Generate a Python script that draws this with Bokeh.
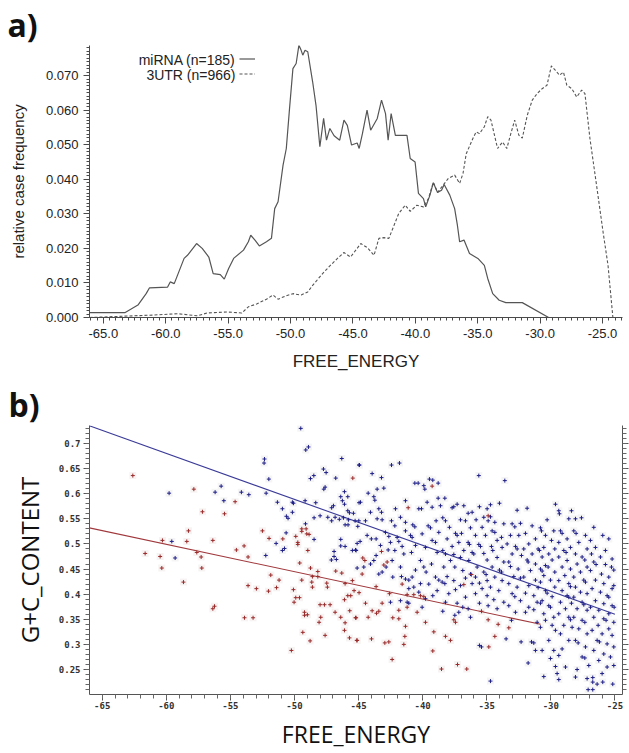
from bokeh.plotting import figure
from bokeh.layouts import column
from bokeh.models import (FixedTicker, CustomJSTickFormatter, LinearAxis, Label,
                          Legend, LegendItem, Title)
from bokeh.core.properties import value
from bokeh.embed import file_html
from bokeh.resources import INLINE

# ---------------- panel a data ----------------
mirna_x = [-66.11, -63.28, -62.23, -61.57, -61.30, -59.85, -59.64, -59.32, -58.53, -58.26,
           -57.53, -57.08, -56.55, -56.20, -55.63, -55.31, -54.96, -54.56, -53.77, -53.38,
           -53.19, -52.85, -52.50, -51.93, -51.53, -51.27, -51.00, -50.60, -50.34, -50.08,
           -49.81, -49.55, -49.33, -49.15, -49.02, -48.84, -48.62, -48.23, -47.96, -47.65,
           -47.35, -47.12, -46.85, -46.51, -46.06, -45.72, -45.45, -45.11, -44.66, -44.50,
           -44.24, -43.87, -43.58, -43.05, -42.71, -42.39, -42.18, -41.94, -41.60, -41.07,
           -40.67, -40.41, -40.02, -39.75, -39.35, -39.17, -38.83, -38.56, -38.22, -37.90,
           -37.69, -37.24, -36.85, -36.63, -36.45, -36.10, -35.66, -34.99, -34.47, -34.20,
           -33.80, -33.28, -32.75, -31.43, -29.32]
mirna_y = [0.0014, 0.0014, 0.0036, 0.0069, 0.0086, 0.0088, 0.0103, 0.0098, 0.0171, 0.0180,
           0.0214, 0.0200, 0.0175, 0.0127, 0.0124, 0.0111, 0.0142, 0.0171, 0.0195, 0.0219,
           0.0238, 0.0224, 0.0207, 0.0219, 0.0229, 0.0315, 0.0335, 0.0441, 0.0489, 0.0605,
           0.0720, 0.0735, 0.0788, 0.0773, 0.0759, 0.0773, 0.0769, 0.0682, 0.0614, 0.0494,
           0.0576, 0.0513, 0.0547, 0.0526, 0.0513, 0.0571, 0.0556, 0.0499, 0.0505, 0.0489,
           0.0532, 0.0600, 0.0542, 0.0576, 0.0629, 0.0590, 0.0513, 0.0590, 0.0527, 0.0527,
           0.0527, 0.0460, 0.0450, 0.0359, 0.0344, 0.0320, 0.0354, 0.0390, 0.0362, 0.0368,
           0.0385, 0.0354, 0.0315, 0.0267, 0.0219, 0.0224, 0.0185, 0.0171, 0.0151, 0.0113,
           0.0069, 0.0050, 0.0043, 0.0043, 0.0000]

utr_x = [-66.11, -61.04, -59.06, -57.47, -56.68, -55.10, -53.91, -53.38, -52.72, -51.93,
         -51.40, -51.00, -50.34, -49.81, -49.15, -48.62, -48.23, -47.43, -46.91, -46.24,
         -45.72, -45.19, -44.37, -43.84, -43.31, -42.92, -42.52, -42.12, -41.33, -40.81,
         -40.41, -39.88, -39.35, -38.95, -38.56, -38.22, -37.77, -37.37, -36.85, -36.45,
         -36.18, -35.92, -35.39, -35.13, -34.86, -34.47, -34.20, -33.94, -33.41, -33.01,
         -32.67, -32.35, -32.04, -31.70, -31.43, -31.03, -30.63, -30.24, -29.84, -29.45,
         -29.10, -28.79, -28.45, -28.13, -27.86, -27.46, -27.07, -26.67, -26.41, -26.01,
         -25.48, -24.96, -24.56, -24.17]
utr_y = [0.0000, 0.0007, 0.0011, 0.0005, 0.0013, 0.0016, 0.0013, 0.0031, 0.0039, 0.0053,
         0.0065, 0.0053, 0.0063, 0.0069, 0.0065, 0.0074, 0.0093, 0.0127, 0.0147, 0.0171,
         0.0188, 0.0175, 0.0214, 0.0202, 0.0180, 0.0229, 0.0231, 0.0229, 0.0301, 0.0325,
         0.0307, 0.0325, 0.0320, 0.0344, 0.0391, 0.0362, 0.0383, 0.0402, 0.0412, 0.0388,
         0.0417, 0.0474, 0.0518, 0.0537, 0.0532, 0.0552, 0.0581, 0.0571, 0.0489, 0.0508,
         0.0489, 0.0532, 0.0571, 0.0527, 0.0519, 0.0585, 0.0629, 0.0648, 0.0662, 0.0672,
         0.0728, 0.0716, 0.0701, 0.0710, 0.0672, 0.0662, 0.0638, 0.0658, 0.0648, 0.0518,
         0.0383, 0.0248, 0.0151, 0.0000]

a_x_ticks = [-65, -60, -55, -50, -45, -40, -35, -30, -25]
a_y_ticks = [0.0, 0.01, 0.02, 0.03, 0.04, 0.05, 0.06, 0.07]
legend_labels = ["miRNA (n=185)", "3UTR (n=966)"]

# ---------------- panel b data ----------------
red_pts = [(-45.45, 0.631), (-62.61, 0.636), (-57.85, 0.609), (-57.18, 0.564), (-55.46, 0.560),
           (-54.63, 0.584), (-58.27, 0.526), (-60.3, 0.507), (-58.4, 0.505), (-56.37, 0.507),
           (-61.65, 0.481), (-60.48, 0.475), (-60.35, 0.452), (-57.62, 0.483), (-57.28, 0.474),
           (-57.23, 0.452), (-58.66, 0.424), (-56.24, 0.376), (-56.37, 0.371), (-53.9, 0.353),
           (-53.23, 0.353), (-54.53, 0.488), (-53.93, 0.496), (-53.62, 0.474), (-52.5, 0.526),
           (-51.98, 0.511), (-50.91, 0.510), (-49.9, 0.515), (-49.74, 0.503), (-49.74, 0.499),
           (-49.43, 0.530), (-49.09, 0.530), (-49.43, 0.525), (-49.04, 0.520), (-48.86, 0.519),
           (-48.96, 0.487), (-51.85, 0.438), (-51.2, 0.428), (-53.62, 0.417), (-52.97, 0.411),
           (-52.03, 0.406), (-51.4, 0.413), (-50.08, 0.409), (-49.9, 0.393), (-49.61, 0.393),
           (-50.03, 0.384), (-49.59, 0.462), (-49.43, 0.428), (-48.75, 0.452), (-48.6, 0.435),
           (-48.18, 0.435), (-48.18, 0.445), (-48.65, 0.424), (-48.6, 0.414), (-47.48, 0.422),
           (-47.43, 0.414), (-46.78, 0.446), (-46.31, 0.442), (-46.05, 0.421), (-45.48, 0.427),
           (-48.0, 0.379), (-47.66, 0.379), (-47.22, 0.379), (-47.95, 0.354), (-48.08, 0.344),
           (-49.22, 0.364), (-48.99, 0.359), (-49.22, 0.358), (-49.35, 0.324), (-48.78, 0.307),
           (-50.24, 0.288), (-47.61, 0.318), (-46.83, 0.364), (-46.39, 0.354), (-46.05, 0.343),
           (-46.1, 0.328), (-45.71, 0.313), (-45.14, 0.308), (-45.69, 0.367), (-45.19, 0.353),
           (-46.1, 0.389), (-45.84, 0.397), (-45.61, 0.397), (-45.35, 0.407), (-44.96, 0.403),
           (-39.26, 0.615), (-41.13, 0.572), (-34.89, 0.556), (-44.67, 0.472), (-44.51, 0.467),
           (-43.21, 0.485), (-43.03, 0.458), (-42.77, 0.464), (-44.72, 0.440), (-43.63, 0.415),
           (-44.46, 0.382), (-43.94, 0.367), (-43.6, 0.362), (-43.42, 0.366), (-44.25, 0.354),
           (-45.24, 0.353), (-43.16, 0.382), (-42.59, 0.401), (-41.86, 0.368), (-41.21, 0.374),
           (-40.43, 0.364), (-40.69, 0.399), (-40.17, 0.397), (-39.91, 0.395), (-41.86, 0.351),
           (-41.34, 0.336), (-42.33, 0.353), (-41.39, 0.316), (-41.47, 0.300), (-42.64, 0.305),
           (-42.95, 0.303), (-43.99, 0.311), (-45.11, 0.308), (-42.38, 0.270), (-39.78, 0.344),
           (-39.13, 0.325), (-39.21, 0.287), (-38.22, 0.316), (-37.83, 0.308), (-38.53, 0.251),
           (-37.57, 0.349), (-37.44, 0.344), (-37.28, 0.260), (-36.56, 0.251), (-36.79, 0.419),
           (-36.19, 0.439), (-35.41, 0.366), (-34.84, 0.295), (-34.37, 0.316), (-34.11, 0.340),
           (-34.89, 0.349), (-33.28, 0.333), (-41.21, 0.399), (-41.6, 0.420)]

blue_pts = [(-49.51, 0.730), (-49.12, 0.687), (-48.91, 0.693), (-52.34, 0.669), (-52.37, 0.661),
            (-52.0, 0.629), (-48.49, 0.636), (-48.75, 0.630), (-47.74, 0.649), (-47.53, 0.642),
            (-46.31, 0.670), (-46.78, 0.631), (-44.96, 0.657), (-59.78, 0.601), (-55.72, 0.615),
            (-56.19, 0.603), (-55.51, 0.586), (-54.14, 0.603), (-53.56, 0.598), (-52.21, 0.601),
            (-51.33, 0.583), (-50.94, 0.570), (-50.63, 0.555), (-50.5, 0.551), (-50.16, 0.583),
            (-50.08, 0.581), (-50.16, 0.563), (-49.17, 0.586), (-48.34, 0.582), (-47.71, 0.609),
            (-47.61, 0.613), (-48.47, 0.552), (-48.0, 0.556), (-47.4, 0.553), (-47.1, 0.572),
            (-46.96, 0.576), (-47.1, 0.546), (-46.83, 0.553), (-46.39, 0.594), (-46.1, 0.604),
            (-45.84, 0.594), (-46.26, 0.586), (-46.1, 0.579), (-45.84, 0.566), (-45.71, 0.562),
            (-45.4, 0.561), (-46.5, 0.549), (-46.18, 0.552), (-45.79, 0.548), (-45.27, 0.546),
            (-46.05, 0.538), (-45.82, 0.538), (-45.06, 0.535), (-44.96, 0.582), (-49.14, 0.540),
            (-50.65, 0.522), (-51.43, 0.501), (-50.94, 0.487), (-50.78, 0.491), (-48.47, 0.509),
            (-46.39, 0.509), (-46.39, 0.496), (-46.05, 0.495), (-46.91, 0.485), (-45.48, 0.487),
            (-45.19, 0.487), (-46.91, 0.475), (-46.73, 0.469), (-47.12, 0.468), (-45.11, 0.452),
            (-44.88, 0.505), (-52.24, 0.477), (-59.57, 0.505), (-59.31, 0.472),
            (-44.93, 0.657), (-43.94, 0.640), (-44.25, 0.601), (-43.81, 0.594), (-43.73, 0.587),
            (-43.55, 0.609), (-43.03, 0.611), (-44.85, 0.583), (-44.07, 0.563), (-44.46, 0.546),
            (-44.98, 0.546), (-44.33, 0.517), (-45.11, 0.501), (-44.0, 0.510), (-44.59, 0.454),
            (-44.07, 0.460), (-45.24, 0.488), (-43.42, 0.570), (-43.21, 0.563), (-43.55, 0.550),
            (-43.16, 0.548), (-42.9, 0.523), (-43.63, 0.510), (-42.64, 0.515), (-43.29, 0.497),
            (-42.51, 0.503), (-42.69, 0.488), (-43.63, 0.477), (-43.81, 0.467), (-42.85, 0.454),
            (-43.16, 0.444), (-43.42, 0.440), (-42.43, 0.657), (-41.81, 0.661), (-43.21, 0.632),
            (-42.12, 0.570), (-41.73, 0.553), (-42.43, 0.546), (-42.17, 0.536), (-41.34, 0.543),
            (-41.99, 0.513), (-41.86, 0.505), (-41.6, 0.495), (-42.17, 0.487), (-41.47, 0.480),
            (-42.38, 0.467), (-41.73, 0.454), (-42.33, 0.434), (-41.65, 0.435), (-41.34, 0.430),
            (-41.08, 0.428), (-41.73, 0.387), (-41.21, 0.384), (-42.51, 0.384), (-41.34, 0.586),
            (-41.34, 0.526), (-40.61, 0.621), (-40.35, 0.621), (-39.91, 0.616), (-39.83, 0.609),
            (-40.3, 0.570), (-40.09, 0.570), (-40.77, 0.538), (-40.61, 0.534), (-40.95, 0.517),
            (-40.82, 0.513), (-40.04, 0.520), (-40.56, 0.497), (-40.87, 0.483), (-40.17, 0.467),
            (-39.91, 0.454), (-40.56, 0.448), (-40.82, 0.434), (-40.17, 0.421), (-41.08, 0.411),
            (-40.69, 0.414), (-40.3, 0.404), (-41.08, 0.382), (-40.04, 0.374), (-39.47, 0.629),
            (-39.21, 0.627), (-38.79, 0.621), (-39.65, 0.583), (-39.26, 0.573), (-38.95, 0.546),
            (-39.57, 0.536), (-39.39, 0.532), (-38.74, 0.523), (-39.26, 0.507), (-39.0, 0.503),
            (-39.78, 0.493), (-38.87, 0.483), (-39.31, 0.460), (-39.73, 0.444), (-39.0, 0.434),
            (-38.74, 0.428), (-39.52, 0.420), (-38.87, 0.407), (-39.21, 0.397), (-39.78, 0.391),
            (-38.79, 0.591), (-38.61, 0.576), (-38.27, 0.591), (-38.43, 0.552), (-38.22, 0.546),
            (-37.7, 0.572), (-37.57, 0.574), (-37.91, 0.533), (-37.44, 0.521), (-37.31, 0.517),
            (-38.09, 0.510), (-37.7, 0.495), (-38.43, 0.487), (-38.22, 0.480), (-37.57, 0.479),
            (-37.83, 0.467), (-38.35, 0.454), (-37.49, 0.454), (-38.09, 0.435), (-38.48, 0.424),
            (-38.27, 0.421), (-37.57, 0.427), (-37.96, 0.401), (-37.44, 0.409), (-37.31, 0.382),
            (-38.43, 0.366), (-38.22, 0.384), (-37.49, 0.358), (-37.31, 0.579), (-36.79, 0.576),
            (-36.45, 0.561), (-36.14, 0.563), (-37.05, 0.548), (-36.66, 0.546), (-36.97, 0.521),
            (-36.27, 0.532), (-37.18, 0.503), (-36.45, 0.503), (-36.35, 0.499), (-36.79, 0.487),
            (-36.14, 0.483), (-37.05, 0.473), (-36.4, 0.467), (-36.87, 0.447), (-36.27, 0.440),
            (-36.66, 0.432), (-37.05, 0.417), (-36.14, 0.421), (-36.66, 0.394), (-36.87, 0.374),
            (-36.45, 0.371), (-37.18, 0.364), (-36.27, 0.354), (-35.62, 0.636), (-35.57, 0.574),
            (-34.97, 0.570), (-34.71, 0.578), (-35.83, 0.548), (-35.23, 0.553), (-34.89, 0.546),
            (-34.71, 0.554), (-35.36, 0.533), (-35.88, 0.517), (-35.1, 0.517), (-35.62, 0.499),
            (-35.49, 0.495), (-36.01, 0.480), (-35.23, 0.481), (-34.97, 0.468), (-35.75, 0.454),
            (-35.23, 0.444), (-35.05, 0.439), (-35.88, 0.434), (-35.57, 0.422), (-34.97, 0.427),
            (-35.36, 0.411), (-35.88, 0.401), (-34.97, 0.397), (-34.89, 0.377), (-35.57, 0.382),
            (-35.57, 0.298), (-35.41, 0.295), (-34.71, 0.227), (-34.01, 0.581), (-34.37, 0.543),
            (-33.67, 0.540), (-34.58, 0.526), (-34.37, 0.523), (-33.85, 0.513), (-34.19, 0.507),
            (-34.63, 0.495), (-34.53, 0.487), (-33.8, 0.493), (-34.19, 0.473), (-33.67, 0.464),
            (-34.58, 0.454), (-34.01, 0.448), (-33.85, 0.444), (-34.37, 0.434), (-33.8, 0.427),
            (-34.71, 0.414), (-34.06, 0.407), (-34.45, 0.389), (-33.67, 0.384), (-34.19, 0.371),
            (-33.59, 0.626), (-33.49, 0.311), (-32.63, 0.567), (-33.02, 0.540), (-32.81, 0.534),
            (-32.37, 0.541), (-33.15, 0.517), (-32.5, 0.517), (-33.41, 0.500), (-32.76, 0.495),
            (-32.63, 0.490), (-33.02, 0.480), (-32.29, 0.477), (-33.28, 0.464), (-33.15, 0.455),
            (-32.55, 0.450), (-32.89, 0.435), (-32.37, 0.432), (-33.28, 0.421), (-32.63, 0.414),
            (-33.02, 0.401), (-32.81, 0.395), (-32.37, 0.387), (-33.28, 0.377), (-32.76, 0.364),
            (-32.32, 0.305), (-33.07, 0.348), (-31.85, 0.571), (-31.46, 0.536), (-30.81, 0.532),
            (-30.73, 0.526), (-31.98, 0.521), (-31.2, 0.510), (-31.72, 0.500), (-32.11, 0.490),
            (-30.99, 0.490), (-30.89, 0.487), (-31.46, 0.480), (-31.85, 0.468), (-31.77, 0.464),
            (-31.2, 0.460), (-30.81, 0.450), (-30.68, 0.446), (-31.59, 0.447), (-32.11, 0.434),
            (-31.2, 0.428), (-31.72, 0.417), (-30.99, 0.413), (-31.98, 0.402), (-31.33, 0.397),
            (-31.07, 0.384), (-30.81, 0.382), (-31.72, 0.374), (-31.33, 0.369), (-31.98, 0.364),
            (-31.51, 0.305), (-31.33, 0.303), (-31.2, 0.288), (-31.77, 0.263), (-31.07, 0.344),
            (-29.64, 0.579), (-29.38, 0.566), (-29.33, 0.560), (-30.29, 0.548), (-29.77, 0.526),
            (-30.42, 0.517), (-29.95, 0.507), (-30.55, 0.493), (-29.69, 0.490), (-30.16, 0.480),
            (-30.68, 0.474), (-29.9, 0.468), (-30.42, 0.457), (-30.21, 0.454), (-29.69, 0.444),
            (-30.55, 0.437), (-30.03, 0.428), (-30.81, 0.424), (-29.69, 0.414), (-30.42, 0.407),
            (-30.29, 0.402), (-29.9, 0.395), (-30.68, 0.387), (-30.16, 0.377), (-30.03, 0.374),
            (-30.55, 0.361), (-29.77, 0.354), (-30.42, 0.348), (-30.81, 0.334), (-29.9, 0.338),
            (-29.64, 0.328), (-30.16, 0.308), (-30.68, 0.288), (-29.77, 0.288), (-30.03, 0.272),
            (-30.55, 0.236), (-29.64, 0.256), (-29.25, 0.526), (-29.12, 0.521), (-28.73, 0.510),
            (-29.38, 0.503), (-28.39, 0.566), (-28.6, 0.550), (-28.99, 0.487), (-28.81, 0.483),
            (-28.47, 0.493), (-29.38, 0.474), (-28.73, 0.467), (-29.12, 0.454), (-28.47, 0.450),
            (-28.91, 0.437), (-29.38, 0.427), (-28.6, 0.421), (-28.47, 0.415), (-29.12, 0.407),
            (-28.73, 0.397), (-28.6, 0.394), (-29.25, 0.384), (-28.39, 0.382), (-28.86, 0.371),
            (-29.38, 0.361), (-28.6, 0.354), (-28.47, 0.349), (-28.99, 0.338), (-28.34, 0.334),
            (-29.25, 0.321), (-28.6, 0.308), (-29.12, 0.291), (-29.38, 0.278), (-28.86, 0.255),
            (-29.51, 0.242), (-29.38, 0.230), (-28.08, 0.235), (-27.95, 0.250), (-28.08, 0.550),
            (-27.61, 0.552), (-28.21, 0.526), (-28.03, 0.521), (-27.3, 0.517), (-27.82, 0.503),
            (-27.17, 0.490), (-28.08, 0.480), (-27.56, 0.474), (-27.35, 0.468), (-27.95, 0.460),
            (-27.17, 0.454), (-27.69, 0.444), (-28.21, 0.434), (-27.43, 0.428), (-27.3, 0.424),
            (-28.08, 0.414), (-27.69, 0.404), (-27.17, 0.401), (-28.21, 0.394), (-27.56, 0.384),
            (-27.43, 0.379), (-27.95, 0.371), (-27.17, 0.368), (-28.21, 0.354), (-27.56, 0.348),
            (-27.35, 0.344), (-27.82, 0.331), (-27.17, 0.321), (-28.08, 0.308), (-27.87, 0.303),
            (-27.3, 0.295), (-27.56, 0.275), (-27.35, 0.273), (-27.04, 0.258), (-27.17, 0.232),
            (-27.09, 0.210), (-26.73, 0.210), (-26.73, 0.225), (-26.65, 0.533), (-25.95, 0.517),
            (-25.48, 0.510), (-26.91, 0.507), (-26.52, 0.493), (-25.74, 0.487), (-26.83, 0.480),
            (-26.13, 0.474), (-25.22, 0.470), (-26.65, 0.464), (-26.47, 0.459), (-25.74, 0.459),
            (-25.27, 0.454), (-25.09, 0.448), (-26.91, 0.447), (-26.05, 0.440), (-25.48, 0.434),
            (-26.52, 0.428), (-25.87, 0.421), (-25.09, 0.417), (-25.22, 0.411), (-26.78, 0.411),
            (-26.13, 0.404), (-25.61, 0.397), (-25.48, 0.394), (-26.52, 0.387), (-25.87, 0.381),
            (-25.22, 0.377), (-25.06, 0.374), (-26.91, 0.374), (-26.26, 0.368), (-25.48, 0.361),
            (-26.65, 0.354), (-25.87, 0.351), (-25.69, 0.348), (-25.09, 0.344), (-26.31, 0.338),
            (-25.48, 0.331), (-26.78, 0.328), (-26.0, 0.321), (-25.22, 0.318), (-26.39, 0.308),
            (-26.21, 0.305), (-25.61, 0.301), (-25.09, 0.295), (-26.65, 0.288), (-25.87, 0.281),
            (-25.35, 0.275), (-26.26, 0.268), (-25.61, 0.255), (-25.09, 0.258), (-26.0, 0.242),
            (-25.17, 0.221), (-25.95, 0.225), (-26.39, 0.221), (-26.73, 0.234)]

fit_mirna_x = [-66.0, -30.8]
fit_mirna_y = [0.532, 0.340]
fit_utr_x = [-66.0, -25.0]
fit_utr_y = [0.735, 0.360]

b_x_ticks = [-65, -60, -55, -50, -45, -40, -35, -30, -25]
b_y_ticks = [0.25, 0.3, 0.35, 0.4, 0.45, 0.5, 0.55, 0.6, 0.65, 0.7]

red_x = [p[0] for p in red_pts]
red_y = [p[1] for p in red_pts]
blue_x = [p[0] for p in blue_pts]
blue_y = [p[1] for p in blue_pts]

SANS = "Liberation Sans"
AXC = "#4a4a4a"

# ================= panel a =================
pa = figure(width=629, height=380, x_range=(-66.11, -23.4), y_range=(0, 0.0787),
            output_backend="svg", toolbar_location=None,
            min_border_left=89, min_border_right=1, min_border_top=45, min_border_bottom=63)
pa.outline_line_color = None
pa.grid.visible = False
pa.title = Title(text="a)", align="left", offset=-82, standoff=0, text_font="Open Sans",
                 text_font_style="bold", text_font_size="32px", text_color="#111111")

r_mi = pa.line(mirna_x, mirna_y, line_color="#555555", line_width=1.2)
r_ut = pa.line(utr_x, utr_y, line_color="#555555", line_width=1.1, line_dash="3 2")

ax = pa.xaxis[0]
ax.ticker = FixedTicker(ticks=a_x_ticks, minor_ticks=[-66 + 0.5 * i for i in range(86)])
ax.formatter = CustomJSTickFormatter(code="return tick.toFixed(1)")
ay = pa.yaxis[0]
ay.ticker = FixedTicker(ticks=a_y_ticks, minor_ticks=[0.001 * i for i in range(79)])
ay.formatter = CustomJSTickFormatter(code="return tick.toFixed(3)")
for a in (ax, ay):
    a.axis_line_color = AXC
    a.major_tick_line_color = AXC
    a.minor_tick_line_color = AXC
    a.major_tick_out = 6
    a.major_tick_in = 0
    a.minor_tick_out = 3
    a.minor_tick_in = 0
    a.major_label_text_font = SANS
    a.major_label_text_font_size = "13px"
    a.major_label_text_color = "#222222"
    a.axis_label_text_font = SANS
    a.axis_label_text_font_style = "normal"
    a.axis_label_text_color = "#222222"
    a.major_label_standoff = 5
ax.axis_label = "FREE_ENERGY"
ax.axis_label_text_font_size = "17px"
ax.axis_label_standoff = 11
ay.axis_label = "relative case frequency"
ay.axis_label_text_font_size = "15px"
ay.axis_label_standoff = 16

pa.add_layout(Label(x=146, y=258, x_units="screen", y_units="screen", text=legend_labels[0],
                    text_align="right", text_baseline="middle", text_font=SANS,
                    text_font_size="14px", text_color="#222222"))
pa.add_layout(Label(x=146, y=243, x_units="screen", y_units="screen", text=legend_labels[1],
                    text_align="right", text_baseline="middle", text_font=SANS,
                    text_font_size="14px", text_color="#222222"))
leg = Legend(items=[LegendItem(label=value(" "), renderers=[r_mi]),
                    LegendItem(label=value(" "), renderers=[r_ut])],
             location=(150, 236), orientation="vertical", padding=0, margin=0, spacing=0,
             glyph_width=16, glyph_height=15, label_height=15, label_width=0, label_standoff=0,
             border_line_color=None, background_fill_alpha=0, label_text_font_size="1px")
pa.add_layout(leg)

# ================= panel b =================
pb = figure(width=629, height=373, x_range=(-65.99, -24.41), y_range=(0.2003, 0.7357),
            output_backend="svg", toolbar_location=None,
            min_border_left=89, min_border_right=7, min_border_top=45, min_border_bottom=59)
pb.outline_line_color = None
pb.grid.visible = False
pb.title = Title(text="b)", align="left", offset=-81, standoff=0, text_font="Open Sans",
                 text_font_style="bold", text_font_size="32px", text_color="#111111")

pb.scatter(blue_x, blue_y, marker="square", size=7, fill_color="#f5f5f5", line_color=None)
pb.scatter(red_x, red_y, marker="square", size=7, fill_color="#f7f3f3", line_color=None)
pb.line(fit_utr_x, fit_utr_y, line_color="#3a3a98", line_width=1.1)
pb.line(fit_mirna_x, fit_mirna_y, line_color="#a0383c", line_width=1.1)
pb.scatter(blue_x, blue_y, marker="cross", size=4, line_color="#1e1e88", line_width=1.0)
pb.scatter(red_x, red_y, marker="cross", size=4, line_color="#9a2a2a", line_width=1.0)

MONO = "DejaVu Sans Mono"
bx = pb.xaxis[0]
bx.ticker = FixedTicker(ticks=b_x_ticks, minor_ticks=list(range(-66, -24)))
bx.formatter = CustomJSTickFormatter(code="return tick.toFixed(0)")
by = pb.yaxis[0]
by.ticker = FixedTicker(ticks=b_y_ticks, minor_ticks=[0.2 + 0.01 * i for i in range(54)])
by.formatter = CustomJSTickFormatter(code="return Number(tick.toFixed(2)).toString()")
ry = LinearAxis(ticker=FixedTicker(ticks=b_y_ticks, minor_ticks=[0.2 + 0.01 * i for i in range(54)]),
                formatter=CustomJSTickFormatter(code="return ''"))
pb.add_layout(ry, "right")
for a in (bx, by, ry):
    a.axis_line_color = "#555555"
    a.major_tick_line_color = "#555555"
    a.minor_tick_line_color = "#666666"
    a.major_tick_out = 6
    a.major_tick_in = 0
    a.minor_tick_out = 4
    a.minor_tick_in = 0
    a.major_label_text_font = MONO
    a.major_label_text_font_style = "bold"
    a.major_label_text_font_size = "9px"
    a.major_label_text_color = "#333333"
    a.major_label_standoff = 3
    a.axis_label_text_font = "Open Sans"
    a.axis_label_text_font_style = "normal"
    a.axis_label_text_color = "#111111"
ry.major_label_standoff = 0
bx.major_label_standoff = 1
bx.axis_label = "FREE_ENERGY"
bx.axis_label_text_font_size = "23px"
bx.axis_label_standoff = 6
by.axis_label = "G+C_CONTENT"
by.axis_label_text_font_size = "24px"
by.axis_label_standoff = 10

layout = column(pa, pb, spacing=0)
open("out.html", "w").write(file_html(layout, INLINE))
